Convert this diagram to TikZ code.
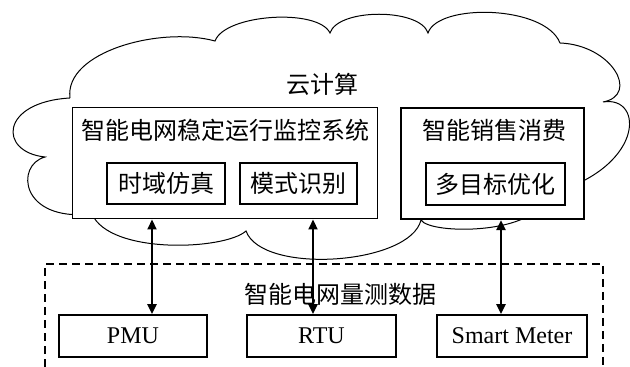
\documentclass[tikz,border=0pt]{standalone}
\usepackage{fontspec}
\setmainfont{Liberation Serif}
\newfontfamily\cjk{Noto Sans CJK SC}
\usetikzlibrary{arrows.meta}

\begin{document}
\begin{tikzpicture}[x=0.5pt,y=-0.5pt,
  every node/.style={font=\fontsize{12}{14}\selectfont},
  box/.style={draw,fill=white,inner sep=0pt,line width=0.9pt},
  txt/.style={font=\cjk\fontsize{12}{14}\selectfont,inner sep=0pt},
  link/.style={{Triangle[length=5pt,width=4.5pt]}-{Triangle[length=5pt,width=4.5pt]},line width=1.1pt}]
  \useasboundingbox (0,0) rectangle (630,367);
  % cloud
  \draw[line width=0.5pt] (70,98) .. controls (64,52) and (160,26) .. (215,41)
    .. controls (225,14) and (318,8) .. (330,33)
    .. controls (338,8) and (420,8) .. (428,33)
    .. controls (438,3) and (545,5) .. (560,43)
    .. controls (612,45) and (640,95) .. (603,102)
    .. controls (645,95) and (645,170) .. (545,195)
    .. controls (540,235) and (430,235) .. (421,220)
    .. controls (410,265) and (262,275) .. (246,231)
    .. controls (225,250) and (110,255) .. (92,214)
    .. controls (20,222) and (15,165) .. (45,157)
    .. controls (-2,152) and (0,102) .. (70,98);
  \path (322,84) node[txt] (cloud) {云计算};
  % cloud side
  \path (224.5,163.5) node[box,line width=0.5pt,minimum width=152.5pt,minimum height=55.5pt] (mon) {}
  (492.5,163.5) node[box,line width=1.1pt,minimum width=91.5pt,minimum height=55.5pt] (sale) {}
  (225,130) node[txt] (montitle) {智能电网稳定运行监控系统}
  (494,130) node[txt] (saletitle) {智能销售消费}
  (166,183.5) node[box,minimum width=59pt,minimum height=20.5pt,font=\cjk\fontsize{12}{14}\selectfont] (sim) {时域仿真}
  (298.5,183.5) node[box,minimum width=58.5pt,minimum height=20.5pt,font=\cjk\fontsize{12}{14}\selectfont] (pat) {模式识别}
  (495.5,184) node[box,minimum width=69.5pt,minimum height=21pt,font=\cjk\fontsize{12}{14}\selectfont] (opt) {多目标优化};
  % measurement side
  \draw[dashed,dash pattern=on 4pt off 2.5pt,line width=0.9pt] (45,367) -- (45,264) -- (603,264) -- (603,367);
  \path (340,294) node[txt] (data) {智能电网量测数据}
  (133,336) node[box,minimum width=74pt,minimum height=21pt] (pmu) {PMU}
  (321.5,336) node[box,minimum width=74.5pt,minimum height=21pt] (rtu) {RTU}
  (512,336) node[box,minimum width=75pt,minimum height=21pt] (meter) {Smart Meter};
  \draw[link] ([xshift=9.5pt]pmu.north) -- ([xshift=9.5pt]pmu.north |- mon.south);
  \draw[link] ([xshift=-4.25pt]rtu.north) -- ([xshift=-4.25pt]rtu.north |- mon.south);
  \draw[link] ([xshift=-5.5pt]meter.north) -- ([xshift=-5.5pt]meter.north |- sale.south);
\end{tikzpicture}
\end{document}
